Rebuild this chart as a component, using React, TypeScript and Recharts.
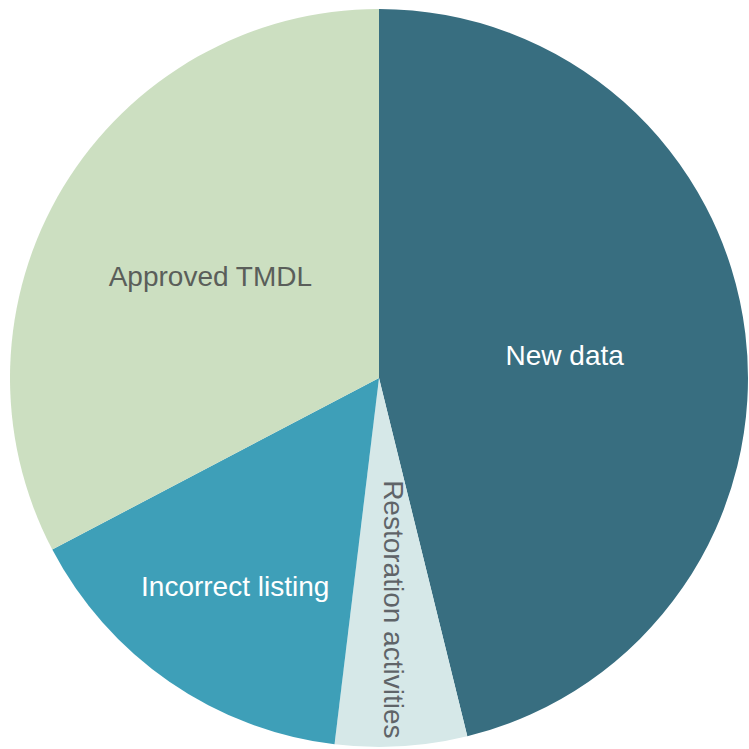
import React from "react";
import { PieChart, Pie, Cell } from "recharts";

const categories = ["New data", "Restoration activities", "Incorrect listing", "Approved TMDL"];
const counts = [24, 3, 8, 17];

const sliceColors = ["#386E80", "#D6E8E8", "#3E9FB8", "#CCDFC1"];
const labelColors = ["#FFFFFF", "#5F6468", "#FFFFFF", "#5A5E5A"];
const labelRadiusFrac = [0.507, 0.628, 0.686, 0.534];
const labelRotate = [0, 90, 0, 0];

const data = categories.map((name, i) => ({ name, value: counts[i] }));

const RAD = Math.PI / 180;

const renderLabel = (props: any) => {
  const { cx, cy, midAngle, outerRadius, index } = props;
  const r = outerRadius * labelRadiusFrac[index];
  const x = cx + r * Math.cos(midAngle * RAD);
  const y = cy - r * Math.sin(midAngle * RAD);
  const rot = labelRotate[index];
  return (
    <text
      x={x}
      y={y}
      fill={labelColors[index]}
      textAnchor="middle"
      dominantBaseline="central"
      fontSize={28}
      fontFamily="'Liberation Sans', Arial, sans-serif"
      transform={rot ? `rotate(${rot} ${x} ${y})` : undefined}
    >
      {categories[index]}
    </text>
  );
};

export default function App() {
  return (
    <div style={{ position: "absolute", left: 0, top: 0, width: 749, height: 749, background: "#FFFFFF" }}>
      <PieChart width={749} height={749} margin={{ top: 0, right: 0, bottom: 0, left: 0 }}>
        <Pie
          data={data}
          dataKey="value"
          nameKey="name"
          cx={379}
          cy={378}
          outerRadius={369}
          startAngle={90}
          endAngle={-270}
          stroke="none"
          label={renderLabel}
          labelLine={false}
          isAnimationActive={false}
        >
          {data.map((d, i) => (
            <Cell key={d.name} fill={sliceColors[i]} />
          ))}
        </Pie>
      </PieChart>
    </div>
  );
}
